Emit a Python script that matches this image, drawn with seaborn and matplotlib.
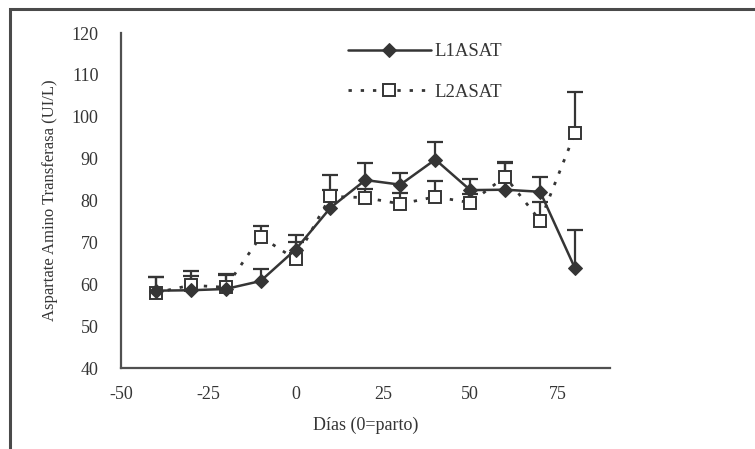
import matplotlib
matplotlib.use("Agg")
import matplotlib.pyplot as plt
import seaborn as sns
import pandas as pd
import numpy as np
from matplotlib.patches import Rectangle

dias = [-40, -30, -20, -10, 0, 10, 20, 30, 40, 50, 60, 70, 80]
l1_asat = [58.5, 58.6, 58.9, 60.8, 68.3, 78.3, 84.9, 83.8, 89.8, 82.5, 82.6, 82.1, 63.8]
l1_err = [3.2, 4.5, 3.4, 2.8, 3.4, 7.7, 4.0, 2.9, 4.2, 2.6, 6.3, 3.6, 9.2]
l2_asat = [58.0, 59.8, 59.3, 71.4, 66.0, 81.0, 80.7, 79.2, 80.9, 79.5, 85.7, 75.2, 96.2]
l2_err = [3.7, 2.3, 3.1, 2.5, 4.0, 1.5, 2.0, 2.5, 3.8, 2.0, 3.4, 4.5, 9.6]
x_ticks = [-50, -25, 0, 25, 50, 75]
y_ticks = [40, 50, 60, 70, 80, 90, 100, 110, 120]

sns.set_style("white")
plt.rcParams['font.family'] = ['Liberation Serif', 'DejaVu Serif']

ink = "#353535"
fig = plt.figure(figsize=(7.55, 4.49), dpi=100)
ax = fig.add_axes([0.160, 0.180, 0.648, 0.7465])

df = pd.DataFrame({"dias": dias, "L1ASAT": l1_asat, "L2ASAT": l2_asat})

# error bars (upper only)
for yv, ev in ((l1_asat, l1_err), (l2_asat, l2_err)):
    eb = ax.errorbar(dias, yv, yerr=[np.zeros(len(ev)), ev], fmt='none',
                     ecolor=ink, elinewidth=1.6, capsize=5.5, capthick=1.6, zorder=2)
    eb[1][0].set_visible(False)

sns.lineplot(data=df, x="dias", y="L2ASAT", ax=ax, color=ink, linestyle=(0, (1.2, 3.2)),
             linewidth=2.0, marker="s", markersize=8, markerfacecolor="white",
             markeredgecolor=ink, markeredgewidth=1.4, label="L2ASAT", zorder=3)
sns.lineplot(data=df, x="dias", y="L1ASAT", ax=ax, color=ink, linestyle="-",
             linewidth=1.8, marker="D", markersize=7, markerfacecolor=ink,
             markeredgecolor=ink, label="L1ASAT", zorder=4)

ax.set_xlim(-50, 90)
ax.set_ylim(40, 120)
ax.set_xticks(x_ticks)
ax.set_yticks(y_ticks)
ax.set_xticklabels([str(t) for t in x_ticks])
ax.set_yticklabels([str(t) for t in y_ticks])
for s in ("top", "right"):
    ax.spines[s].set_visible(False)
for s in ("left", "bottom"):
    ax.spines[s].set_color("#505050")
    ax.spines[s].set_linewidth(1.6)
ax.tick_params(axis="both", direction="out", length=6, width=1.3, color="#505050",
               labelsize=13, labelcolor=ink, pad=7)
ax.tick_params(axis="y", pad=10)

ax.set_xlabel("Días (0=parto)", fontsize=13, color=ink, labelpad=10)
ax.set_ylabel("Aspartate Amino Transferasa (UI/L)", fontsize=12, color=ink, labelpad=10)

h, l = ax.get_legend_handles_labels()
order = [l.index("L1ASAT"), l.index("L2ASAT")]
leg = ax.legend([h[i] for i in order], [l[i] for i in order], loc="upper left",
                bbox_to_anchor=(0.43, 1.02), frameon=False, fontsize=13.5,
                handlelength=4.4, handletextpad=0.2, labelspacing=1.25)
for t in leg.get_texts():
    t.set_color(ink)

fig.patches.append(Rectangle((10 / 755, -0.05), 1.2, 1 - 9 / 449 + 0.05,
                             transform=fig.transFigure, fill=False,
                             edgecolor="#4a4a4a", linewidth=2.2))

fig.savefig("out.png", dpi=100, facecolor="white")
